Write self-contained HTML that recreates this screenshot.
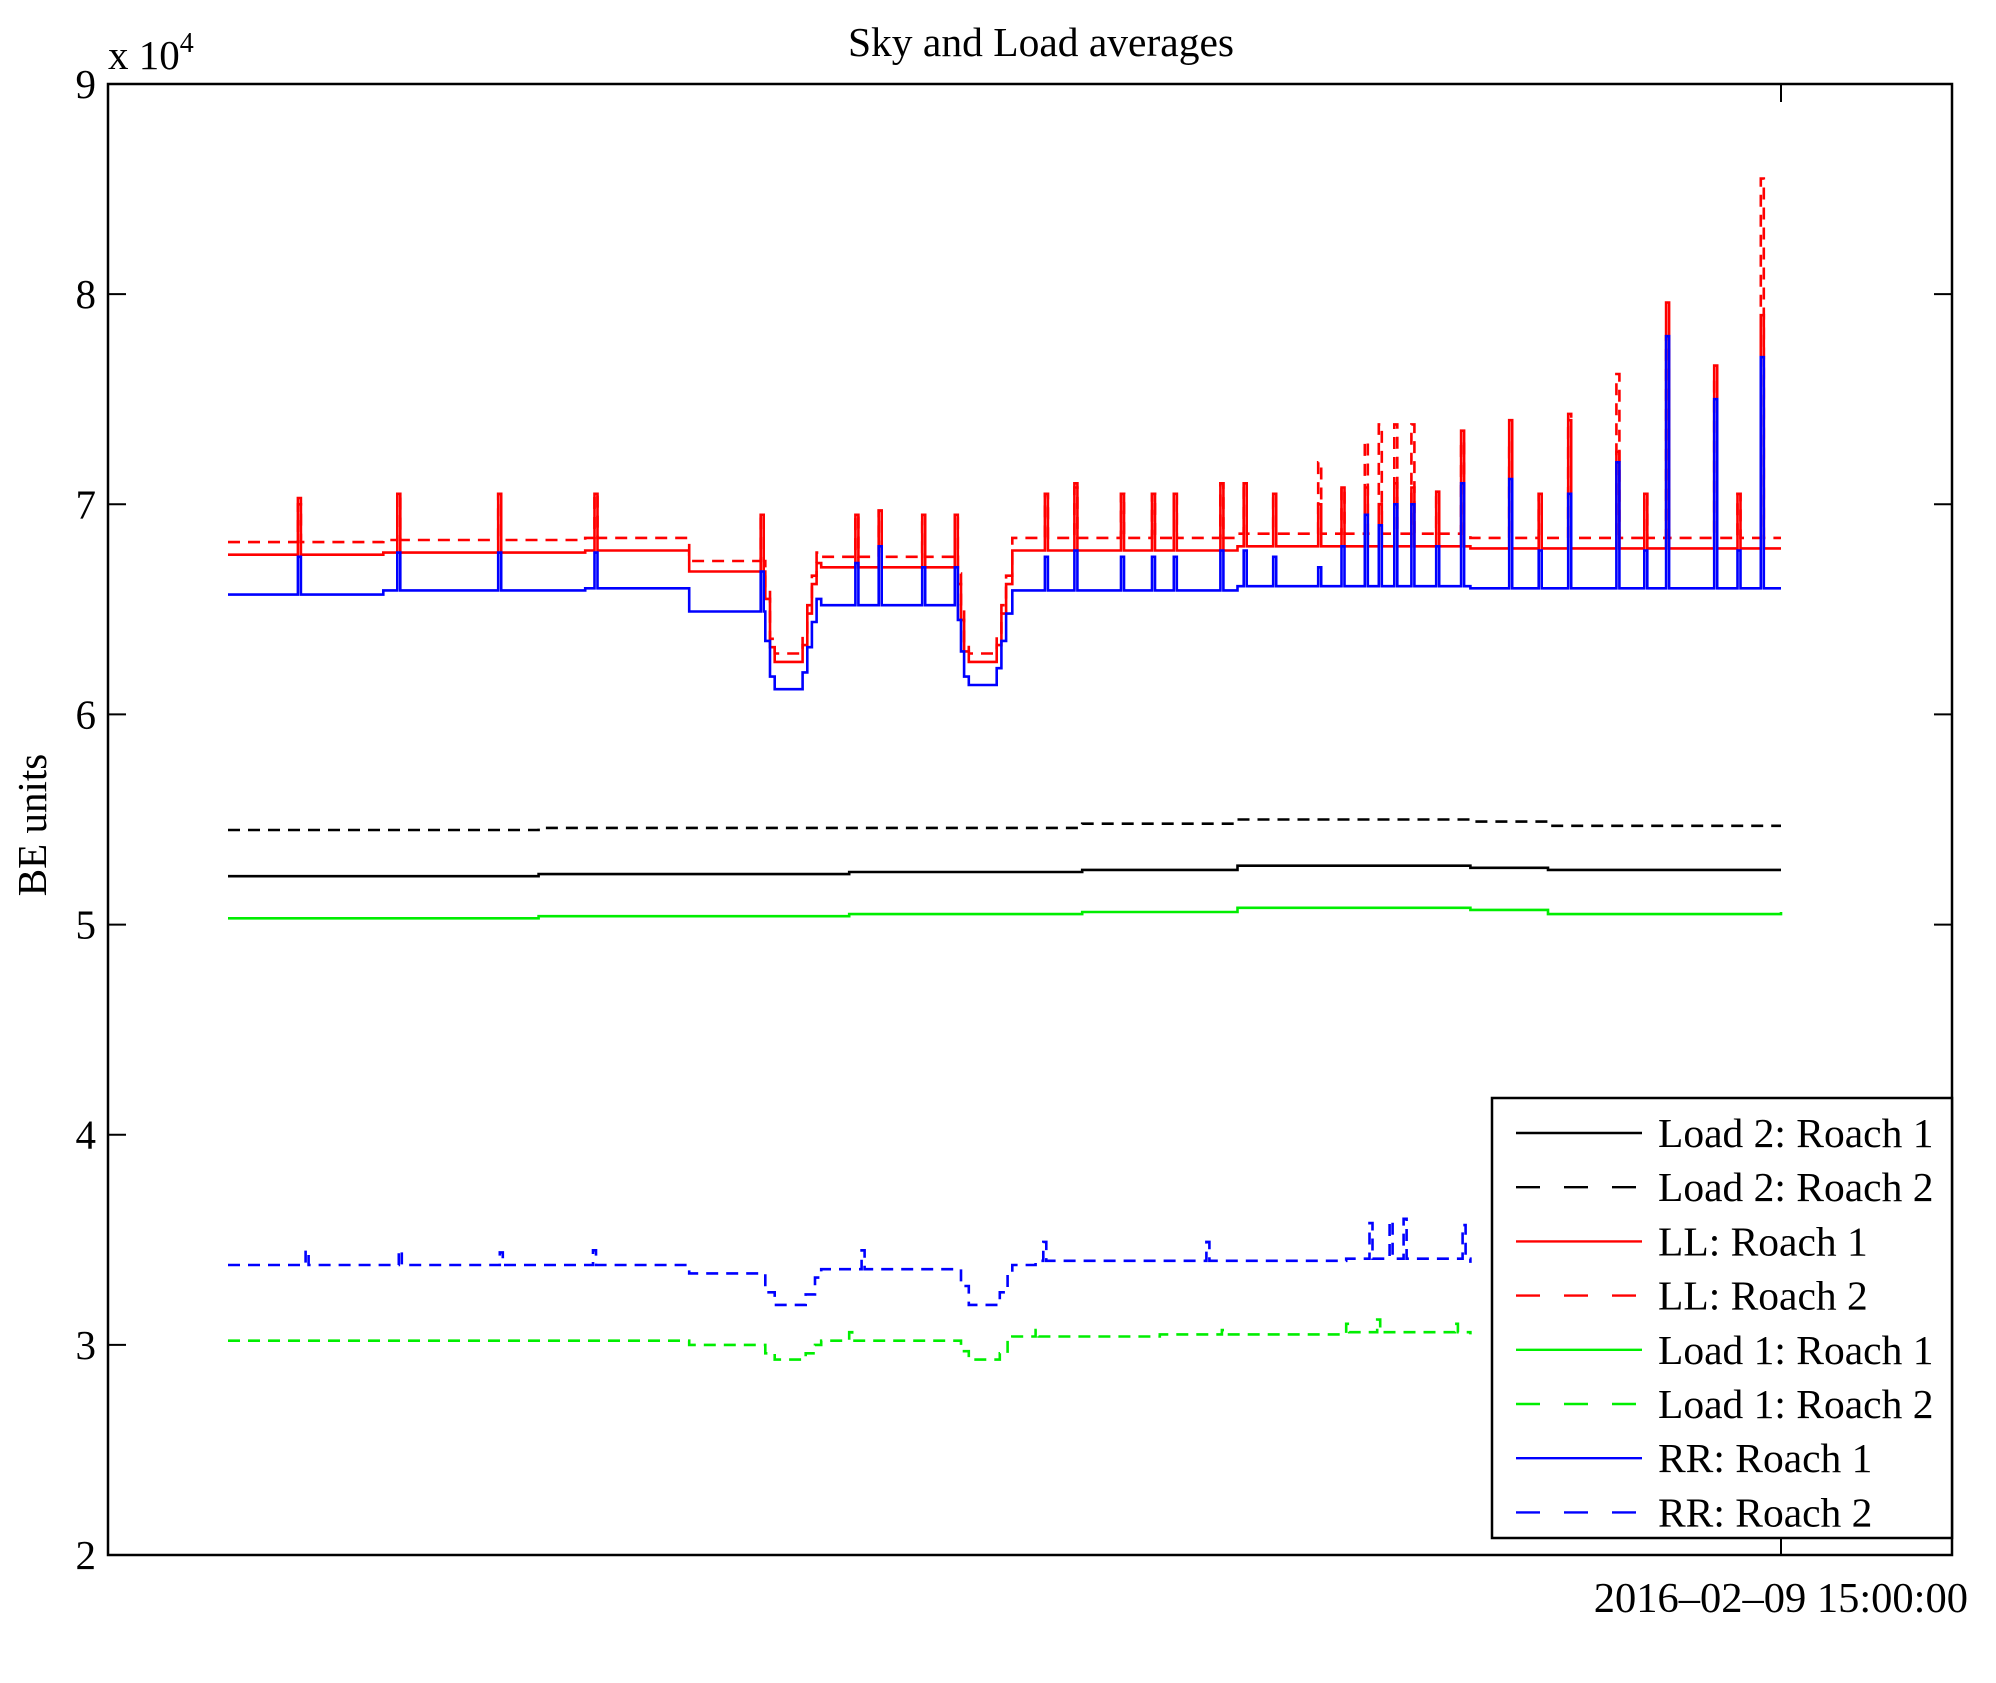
<!DOCTYPE html>
<html><head><meta charset="utf-8"><style>
html,body{margin:0;padding:0;background:#fff;}
svg{display:block;font-family:"Liberation Serif",serif;}
</style></head><body>
<svg id="chart" width="1996" height="1683" viewBox="0 0 1996 1683" xmlns="http://www.w3.org/2000/svg">
<rect width="1996" height="1683" fill="#fff"/>
<text x="1041" y="56" font-size="41.5" text-anchor="middle">Sky and Load averages</text>
<text x="108" y="69" font-size="41">x 10<tspan dy="-17" font-size="28">4</tspan></text>
<text transform="translate(46,825) rotate(-90)" font-size="41" text-anchor="middle">BE units</text>
<g id="plot"></g>
<g id="axes"></g>
<g id="legend"></g>
</svg>
<script>
const yTicks=[2,3,4,5,6,7,8,9];
const xTickLabels=["2016\u201302\u201309 15:00:00"];
const spikeX=[0.045,0.109,0.174,0.236,0.343,0.404,0.419,0.447,0.468,0.526,0.545,0.575,0.595,0.609,0.639,0.654,0.673,0.702,0.717,0.732,0.741,0.751,0.762,0.778,0.794,0.825,0.844,0.863,0.894,0.912,0.926,0.957,0.972,0.987];
const llR1Spikes=[7.03,7.05,7.05,7.05,6.95,6.95,6.97,6.95,6.95,7.05,7.10,7.05,7.05,7.05,7.10,7.10,7.05,7.0,7.08,7.08,7.0,7.1,7.08,7.06,7.35,7.40,7.05,7.40,7.25,7.05,7.96,7.66,7.05,7.90];
const llR2Spikes=[7.0,7.05,7.05,7.05,6.95,6.95,6.97,6.95,6.95,7.05,7.08,7.05,7.05,7.05,7.10,7.10,7.05,7.2,7.08,7.30,7.38,7.38,7.38,7.06,7.30,7.30,7.05,7.43,7.62,7.05,7.80,7.60,7.05,8.55];
const rrR1Spikes=[6.75,6.77,6.77,6.77,6.68,6.72,6.80,6.70,6.70,6.75,6.78,6.75,6.75,6.75,6.78,6.78,6.75,6.70,6.80,6.95,6.90,7.0,7.0,6.80,7.10,7.12,6.78,7.05,7.20,6.78,7.80,7.50,6.78,7.70];
const llR1X=[0,0.10,0.23,0.297,0.346,0.349,0.352,0.370,0.373,0.376,0.379,0.382,0.47,0.472,0.474,0.477,0.495,0.498,0.501,0.505,0.65,0.80,1.0];
const llR1Y=[6.76,6.77,6.78,6.68,6.55,6.32,6.25,6.33,6.48,6.62,6.72,6.70,6.62,6.45,6.30,6.25,6.33,6.48,6.62,6.78,6.80,6.79,6.79];
const llR2Y=[6.82,6.83,6.84,6.73,6.60,6.36,6.29,6.37,6.52,6.66,6.77,6.75,6.67,6.50,6.34,6.29,6.37,6.52,6.66,6.84,6.86,6.84,6.84];
const rrR1Y=[6.57,6.59,6.60,6.49,6.35,6.18,6.12,6.20,6.32,6.44,6.55,6.52,6.45,6.30,6.18,6.14,6.22,6.35,6.48,6.59,6.61,6.60,6.60];
const l2R1X=[0,0.20,0.40,0.55,0.65,0.80,0.85,1.0];
const l2R1Y=[5.23,5.24,5.25,5.26,5.28,5.27,5.26,5.26];
const l2R2Y=[5.45,5.46,5.46,5.48,5.50,5.49,5.47,5.47];
const l1R1Y=[5.03,5.04,5.05,5.06,5.08,5.07,5.05,5.06];
const lowX=[0,0.297,0.346,0.352,0.372,0.378,0.382,0.472,0.477,0.497,0.502,0.505,0.52,0.60,0.72,0.80];
const rrR2Y=[3.38,3.34,3.25,3.19,3.24,3.32,3.36,3.28,3.19,3.25,3.34,3.38,3.40,3.40,3.41,3.39];
const l1R2Y=[3.02,3.00,2.96,2.93,2.96,3.00,3.02,2.97,2.93,2.96,3.02,3.04,3.04,3.05,3.06,3.05];
const rrR2SpikeX=[0.05,0.11,0.175,0.235,0.408,0.525,0.63,0.735,0.748,0.757,0.795];
const rrR2SpikeY=[3.45,3.45,3.44,3.45,3.45,3.49,3.49,3.58,3.59,3.60,3.57];
const l1R2SpikeX=[0.40,0.52,0.64,0.72,0.74,0.79];
const l1R2SpikeY=[3.06,3.07,3.07,3.10,3.12,3.10];
const legendLabels=["Load 2: Roach 1","Load 2: Roach 2","LL: Roach 1","LL: Roach 2","Load 1: Roach 1","Load 1: Roach 2","RR: Roach 1","RR: Roach 2"];

const L=108,R=1952,T=84,B=1555,X0=228,X1=1781;
const sy=v=>B-(v-2)/7*(B-T);
const sx=f=>X0+f*(X1-X0);
const NS="http://www.w3.org/2000/svg";
function mk(tag,attrs,parent){const e=document.createElementNS(NS,tag);for(const k in attrs)e.setAttribute(k,attrs[k]);parent.appendChild(e);return e;}
function stepPath(xs,ys,end,sxs,sys){
  const pts=[];
  for(let i=0;i<xs.length;i++){const x2=i+1<xs.length?xs[i+1]:end;pts.push([xs[i],x2,ys[i]]);}
  const sp=(sxs||[]).map((x,i)=>[x,sys[i]]);
  let d="";
  pts.forEach(([a,b,y],i)=>{
    const px=sx(a),py=sy(y);
    d+=(i===0?"M":"L")+px.toFixed(1)+","+py.toFixed(1);
    sp.filter(s=>s[0]>=a&&s[0]<b).forEach(s=>{
      const cx=sx(s[0]);
      d+="L"+cx.toFixed(1)+","+py.toFixed(1)+"L"+cx.toFixed(1)+","+sy(s[1]).toFixed(1)+"L"+(cx+3).toFixed(1)+","+sy(s[1]).toFixed(1)+"L"+(cx+3).toFixed(1)+","+py.toFixed(1);
    });
    d+="L"+sx(b).toFixed(1)+","+py.toFixed(1);
  });
  return d;
}
const plot=document.getElementById('plot');
const series=[
 ["load2-roach1",l2R1X,l2R1Y,1,null,null,"#000",false],
 ["load2-roach2",l2R1X,l2R2Y,1,null,null,"#000",true],
 ["load1-roach1",l2R1X,l1R1Y,1,null,null,"#00ee00",false],
 ["load1-roach2",lowX,l1R2Y,0.8,l1R2SpikeX,l1R2SpikeY,"#00ee00",true],
 ["rr-roach2",lowX,rrR2Y,0.8,rrR2SpikeX,rrR2SpikeY,"#0000ff",true],
 ["ll-roach2",llR1X,llR2Y,1,spikeX,llR2Spikes,"#ff0000",true],
 ["ll-roach1",llR1X,llR1Y,1,spikeX,llR1Spikes,"#ff0000",false],
 ["rr-roach1",llR1X,rrR1Y,1,spikeX,rrR1Spikes,"#0000ff",false]
];
series.forEach(s=>{
  const p=mk('path',{d:stepPath(s[1],s[2],s[3],s[4],s[5]),fill:"none",stroke:s[6],"stroke-width":2.6},plot);
  if(s[7])p.setAttribute('stroke-dasharray','12,8');
  
  
});
const axes=document.getElementById('axes');
const frame=mk('rect',{x:L,y:T,width:R-L,height:B-T,fill:"none",stroke:"#000","stroke-width":2.5},axes);


yTicks.forEach(v=>{
  const y=sy(v);
  mk('line',{x1:L,x2:L+18,y1:y,y2:y,stroke:"#000","stroke-width":2},axes);
  mk('line',{x1:R-18,x2:R,y1:y,y2:y,stroke:"#000","stroke-width":2},axes);
  const t=mk('text',{x:L-12,y:y+14,"font-size":41,"text-anchor":"end"},axes);
  t.textContent=v;
  
  
});
mk('line',{x1:X1,x2:X1,y1:B,y2:B-18,stroke:"#000","stroke-width":2},axes);
mk('line',{x1:X1,x2:X1,y1:T,y2:T+18,stroke:"#000","stroke-width":2},axes);
const xt=mk('text',{x:1968,y:1612,"font-size":42.5,"text-anchor":"end"},axes);
xt.textContent=xTickLabels[0];


const lg=document.getElementById('legend');
const box=mk('rect',{x:1492,y:1098,width:460,height:440,fill:"#fff",stroke:"#000","stroke-width":2.5},lg);


const legCols=["#000","#000","#ff0000","#ff0000","#00ee00","#00ee00","#0000ff","#0000ff"];
legendLabels.forEach((lab,i)=>{
  const y=1133+i*54.2;
  const g=mk('g',{},lg);
  
  
  const ln=mk('line',{x1:1516,x2:1642,y1:y,y2:y,stroke:legCols[i],"stroke-width":2.4},g);
  if(i%2===1)ln.setAttribute('stroke-dasharray','24,24');
  const t=mk('text',{x:1658,y:y+14,"font-size":41.5},g);
  t.textContent=lab;
});
</script>
</body></html>
